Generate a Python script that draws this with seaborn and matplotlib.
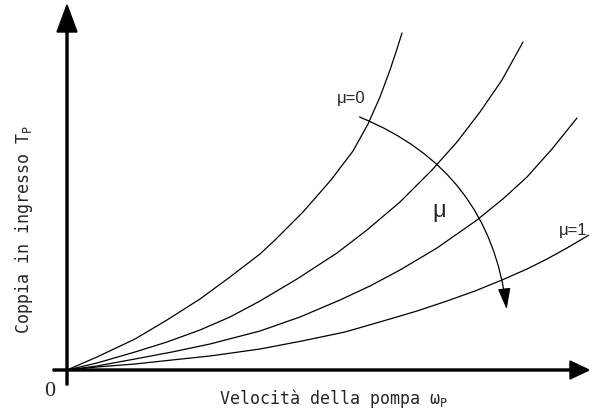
import pandas as pd
import matplotlib
matplotlib.use("Agg")
import matplotlib.pyplot as plt
import seaborn as sns

# torque curves (pump speed -> input torque), one per mu
speed_mu0 = [0, 30, 68, 100, 133, 163, 193, 208, 236, 264, 286, 301, 313, 323, 329, 335]
torque_mu0 = [0, 13, 31, 50, 71, 93, 116, 130, 158, 190, 219, 246, 273, 300, 318, 337]

speed_mu_a = [0, 30, 68, 100, 133, 163, 193, 230, 270, 300, 333, 365, 390, 413, 435, 456]
torque_mu_a = [0, 7, 18, 28, 40, 53, 69, 91, 117, 140, 168, 200, 228, 258, 290, 328]

speed_mu_b = [0, 30, 68, 105, 143, 193, 233, 273, 303, 333, 370, 410, 437, 460, 485, 510]
torque_mu_b = [0, 4, 11, 18, 26, 39, 53, 70, 84, 100, 122, 150, 172, 193, 221, 252]

speed_mu1 = [0, 30, 68, 105, 143, 193, 235, 278, 323, 350, 380, 408, 435, 460, 480, 500, 522]
torque_mu1 = [0, 3, 6, 10, 14, 21, 29, 38, 51, 59, 69, 79, 90, 101, 111, 122, 135]

curve_names = ["mu=0", "mu_a", "mu_b", "mu=1"]

frames = []
for name, xs, ys in zip(curve_names,
                        [speed_mu0, speed_mu_a, speed_mu_b, speed_mu1],
                        [torque_mu0, torque_mu_a, torque_mu_b, torque_mu1]):
    frames.append(pd.DataFrame({"speed": xs, "torque": ys, "mu": name}))
df = pd.concat(frames, ignore_index=True)

sns.set_theme(style="white")
plt.rcParams["font.family"] = ["DejaVu Sans"]

fig = plt.figure(figsize=(5.89, 4.09), dpi=100)
ax = fig.add_axes([0, 0, 1, 1])

sns.lineplot(data=df, x="speed", y="torque", hue="mu", palette=["black"] * 4,
             estimator=None, sort=False, legend=False, linewidth=0.9, ax=ax)

# axes with arrow heads
ax.arrow(-14, 0, 536, 0, width=2, head_width=18, head_length=19,
         length_includes_head=True, fc="black", ec="black")
ax.arrow(0, -15, 0, 380, width=2, head_width=20, head_length=27,
         length_includes_head=True, fc="black", ec="black")

# curved arrow showing increasing mu
ax.annotate("", xy=(440, 58), xytext=(290, 254),
            arrowprops=dict(arrowstyle="-|>,head_length=1.0,head_width=0.3",
                            connectionstyle="arc3,rad=-0.3",
                            color="black", lw=0.9, mutation_scale=13))

label_font = ["Liberation Sans", "DejaVu Sans"]
ax.text(270, 272, "μ=0", fontsize=12, family=label_font, ha="left", va="center")
ax.text(492, 140, "μ=1", fontsize=12, family=label_font, ha="left", va="center")
ax.text(372, 159, "μ", fontsize=17, family=label_font, ha="center", va="center")
ax.text(-17, -21, "0", fontsize=16, family=["Liberation Serif"], ha="center", va="center")

mono = ["DejaVu Sans Mono"]
ax.text(266, -28, r"Velocità della pompa ω$_\mathregular{P}$", fontsize=12,
        family=mono, ha="center", va="center")
ax.text(-43, 140, r"Coppia in ingresso T$_\mathregular{P}$", fontsize=12,
        family=mono, ha="center", va="center", rotation=90)

ax.set_xlim(-67, 522)
ax.set_ylim(-39, 370)
ax.set_axis_off()

fig.savefig("out.png", dpi=100)
